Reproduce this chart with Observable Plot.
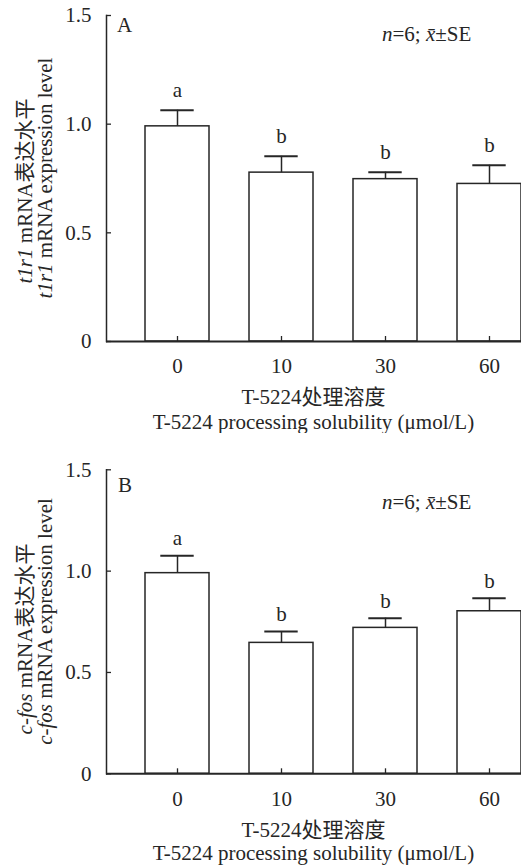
<!DOCTYPE html>
<html><head><meta charset="utf-8">
<script src="https://cdn.jsdelivr.net/npm/d3@7"></script>
<script src="https://cdn.jsdelivr.net/npm/@observablehq/plot@0.6"></script>
<style>
html,body{margin:0;padding:0;background:#fff;overflow:hidden;}
#chart svg{display:block;}
#chart svg text, #chart svg tspan{font-family:"Liberation Serif","Noto Sans CJK SC",serif;}
</style></head><body><div id="chart"></div>
<script>
// ---- data ----
const concentrations = ["0", "10", "30", "60"];
const t1r1Mean = [0.99, 0.777, 0.747, 0.725];
const t1r1SE = [0.074, 0.075, 0.032, 0.086];
const t1r1Letters = ["a", "b", "b", "b"];
const cfosMean = [0.99, 0.646, 0.72, 0.802];
const cfosSE = [0.086, 0.056, 0.048, 0.064];
const cfosLetters = ["a", "b", "b", "b"];
const yTicks = [0, 0.5, 1.0, 1.5];

const INK = "#262626";
const FONT = '"Liberation Serif","Noto Sans CJK SC",serif';

function addText(svg, {x, y, rotate = 0, anchor = "start", size = 21, parts}) {
  const t = d3.select(svg).append("text")
    .attr("transform", `translate(${x},${y}) rotate(${rotate})`)
    .attr("text-anchor", anchor)
    .style("font-family", FONT)
    .style("font-size", size + "px")
    .attr("fill", INK);
  for (const p of parts) {
    const s = t.append("tspan").text(p.t);
    if (p.i) s.style("font-style", "italic");
  }
}

function panel({mean, se, letters, height, marginTop, marginBottom, letterDy}) {
  const rows = concentrations.map((c, i) => ({c, mean: mean[i], top: mean[i] + se[i], letter: letters[i]}));
  return Plot.plot({
    width: 521, height, marginTop, marginBottom, marginLeft: 106, marginRight: 0,
    style: {fontFamily: FONT, fontSize: "21px", color: INK, background: "white"},
    x: {type: "band", domain: concentrations, range: [106, 559.6], paddingInner: 0.382, paddingOuter: 0.357, label: null},
    y: {domain: [0, 1.5], label: null},
    marks: [
      Plot.barY(rows, {x: "c", y: "mean", fill: "white", stroke: INK, strokeWidth: 1.5}),
      Plot.ruleX(rows, {x: "c", y1: "mean", y2: "top", stroke: INK, strokeWidth: 1.5}),
      Plot.tickY(rows, {x: "c", y: "top", stroke: INK, strokeWidth: 2, insetLeft: 15.3, insetRight: 15.3}),
      Plot.text(rows, {x: "c", y: "top", text: "letter", dy: letterDy, fontSize: 21, fontFamily: FONT, fill: INK}),
      Plot.axisY({ticks: yTicks, tickFormat: d => d === 0 ? "0" : d.toFixed(1), tickSize: -5, tickPadding: 20, label: null, strokeWidth: 1.3, fontSize: 21, fontFamily: FONT, fontVariant: "normal"}),
      Plot.axisX({tickSize: -5, tickPadding: 22, label: null, strokeWidth: 1.3, fontSize: 21, fontFamily: FONT, fontVariant: "normal"}),
      Plot.ruleY([0], {stroke: INK, strokeWidth: 2}),
      Plot.frame({anchor: "left", stroke: INK, strokeWidth: 1.5})
    ]
  });
}

const chart = document.getElementById("chart");

// Panel A
const a = panel({mean: t1r1Mean, se: t1r1SE, letters: t1r1Letters, height: 433, marginTop: 15, marginBottom: 92, letterDy: -20});
chart.appendChild(a);
addText(a, {x: 117, y: 32, parts: [{t: "A"}]});
addText(a, {x: 382, y: 41, parts: [{t: "n", i: 1}, {t: "=6; "}, {t: "x\u0304", i: 1}, {t: "±SE"}]});
addText(a, {x: 32, y: 191, rotate: -90, anchor: "middle", parts: [{t: "t1r1", i: 1}, {t: " mRNA表达水平"}]});
addText(a, {x: 52, y: 178, rotate: -90, anchor: "middle", parts: [{t: "t1r1", i: 1}, {t: " mRNA expression level"}]});
addText(a, {x: 313.5, y: 404, anchor: "middle", parts: [{t: "T-5224处理溶度"}]});
addText(a, {x: 313.5, y: 429, anchor: "middle", parts: [{t: "T-5224 processing solubility (μmol/L)"}]});

// Panel B
const b = panel({mean: cfosMean, se: cfosSE, letters: cfosLetters, height: 433, marginTop: 36.3, marginBottom: 92.7, letterDy: -17});
chart.appendChild(b);
addText(b, {x: 118, y: 58.7, parts: [{t: "B"}]});
addText(b, {x: 382, y: 76, parts: [{t: "n", i: 1}, {t: "=6; "}, {t: "x\u0304", i: 1}, {t: "±SE"}]});
addText(b, {x: 32, y: 206, rotate: -90, anchor: "middle", parts: [{t: "c-fos", i: 1}, {t: " mRNA表达水平"}]});
addText(b, {x: 52, y: 188.5, rotate: -90, anchor: "middle", parts: [{t: "c-fos", i: 1}, {t: " mRNA expression level"}]});
addText(b, {x: 313.5, y: 404, anchor: "middle", parts: [{t: "T-5224处理溶度"}]});
addText(b, {x: 313.5, y: 427, anchor: "middle", parts: [{t: "T-5224 processing solubility (μmol/L)"}]});
</script>
</body></html>
